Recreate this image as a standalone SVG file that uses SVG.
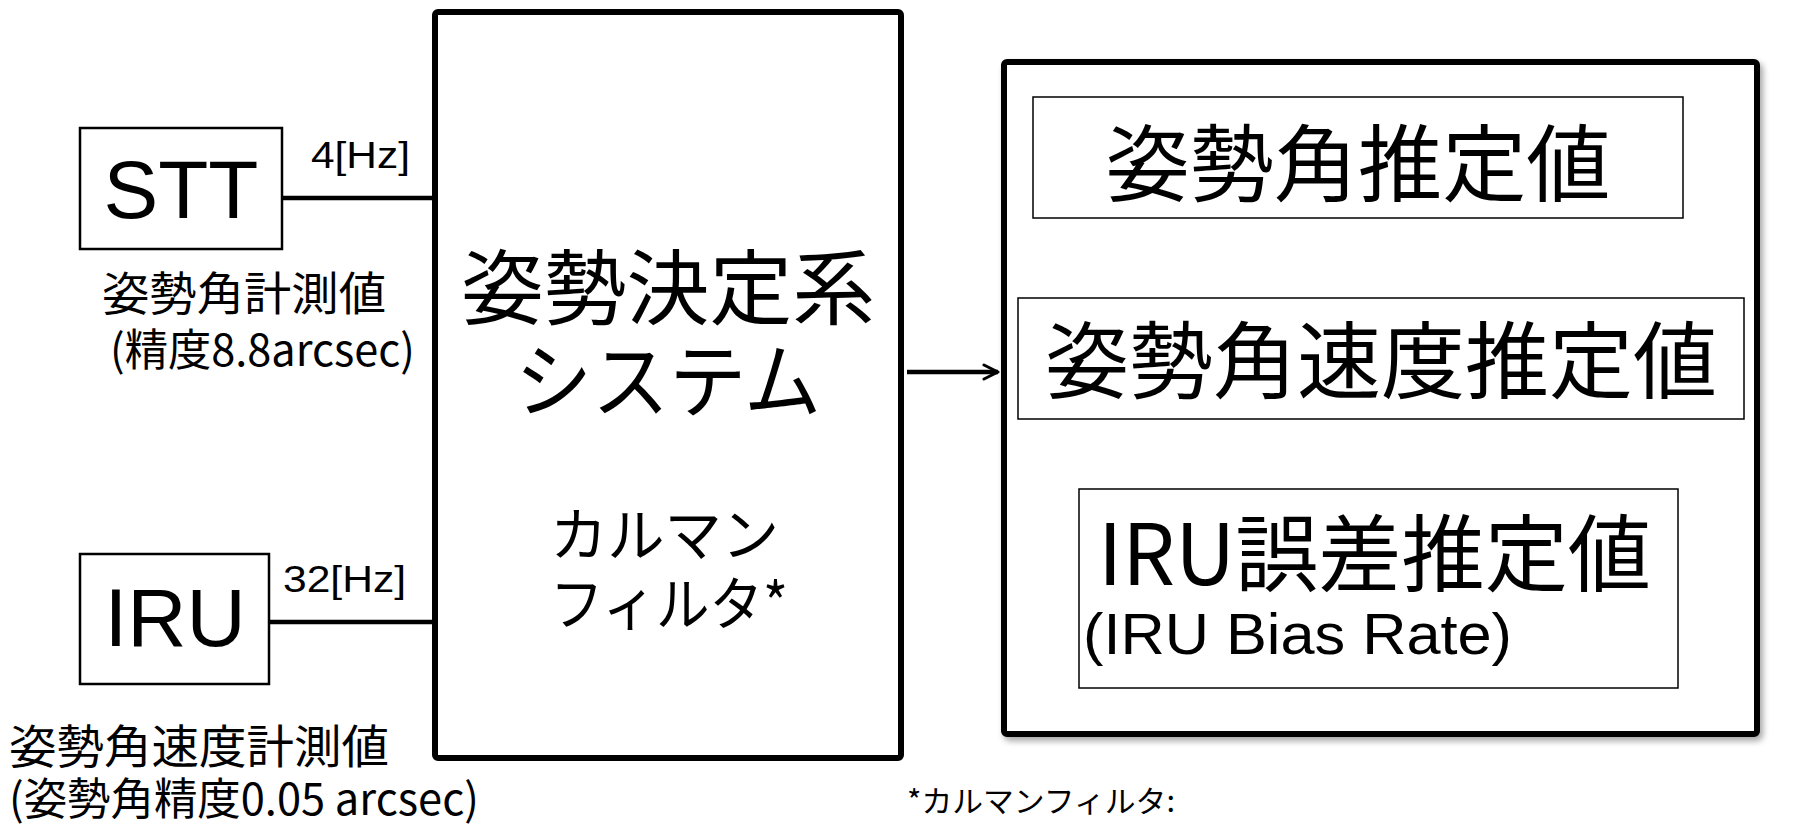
<svg xmlns="http://www.w3.org/2000/svg" width="1817" height="825" viewBox="0 0 1817 825">
<defs>
<marker id="arr" viewBox="0 0 20 20" refX="18" refY="10" markerWidth="20" markerHeight="20" markerUnits="userSpaceOnUse" orient="auto">
<path d="M4,3 L18,10 L4,17" fill="none" stroke="#000" stroke-width="3" stroke-linecap="round" stroke-linejoin="round"/>
</marker>
<filter id="sh" x="-5%" y="-5%" width="112%" height="112%">
<feDropShadow dx="3" dy="4" stdDeviation="3" flood-color="#000" flood-opacity="0.35"/>
</filter>
</defs>
<style>
text{fill:#000;font-family:"Liberation Sans","Noto Sans CJK JP",sans-serif}
.jp{font-family:"Noto Sans CJK JP","Liberation Sans",sans-serif}
.thin{fill:#fff;stroke:#000;stroke-width:1.5}
.sm{fill:#fff;stroke:#000;stroke-width:2.5}
.big{fill:#fff;stroke:#000;stroke-width:6}
.ln{stroke:#000;stroke-width:4.5;fill:none}
</style>
<rect width="1817" height="825" fill="#fff"/>
<g id="connectors">
<line class="ln" x1="283" y1="198" x2="432" y2="198"/>
<line class="ln" x1="269" y1="622" x2="432" y2="622"/>
<line class="ln" x1="907" y1="372" x2="998" y2="372" marker-end="url(#arr)"/>
<text x="311" y="168" font-size="37" textLength="99" lengthAdjust="spacingAndGlyphs">4[Hz]</text>
<text x="283" y="592" font-size="37" textLength="123" lengthAdjust="spacingAndGlyphs">32[Hz]</text>
</g>
<g id="stt">
<rect class="sm" x="80" y="128" width="202" height="121"/>
<text x="181" y="218" font-size="82" text-anchor="middle">STT</text>
<text class="jp" x="102" y="310" font-size="46" textLength="284" lengthAdjust="spacingAndGlyphs">姿勢角計測値</text>
<text class="jp" x="110" y="366" font-size="44" textLength="305" lengthAdjust="spacingAndGlyphs">(精度8.8arcsec)</text>
</g>
<g id="iru">
<rect class="sm" x="80" y="554" width="189" height="130"/>
<text x="175" y="646" font-size="82" text-anchor="middle">IRU</text>
<text class="jp" x="9" y="763" font-size="46" textLength="380" lengthAdjust="spacingAndGlyphs">姿勢角速度計測値</text>
<text class="jp" x="9" y="815" font-size="44" textLength="470" lengthAdjust="spacingAndGlyphs">(姿勢角精度0.05 arcsec)</text>
</g>
<g id="system">
<rect class="big" x="435" y="12" width="466" height="746" rx="3"/>
<text class="jp" x="668" y="318" font-size="82" text-anchor="middle" textLength="414" lengthAdjust="spacingAndGlyphs">姿勢決定系</text>
<text class="jp" x="668" y="411" font-size="82" text-anchor="middle" textLength="306" lengthAdjust="spacingAndGlyphs">システム</text>
<text class="jp" x="550" y="556" font-size="58" textLength="229" lengthAdjust="spacingAndGlyphs">カルマン</text>
<text class="jp" x="550" y="625" font-size="58" textLength="238" lengthAdjust="spacingAndGlyphs">フィルタ*</text>
</g>
<g id="estimates">
<rect class="big" x="1004" y="62" width="753" height="672" rx="3" filter="url(#sh)" stroke-width="5"/>
<g id="est-angle">
<rect class="thin" x="1033" y="97" width="650" height="121"/>
<text class="jp" x="1358" y="195" font-size="84" text-anchor="middle" textLength="505" lengthAdjust="spacingAndGlyphs">姿勢角推定値</text>
</g>
<g id="est-rate">
<rect class="thin" x="1018" y="298" width="726" height="121"/>
<text class="jp" x="1381" y="392" font-size="84" text-anchor="middle" textLength="672" lengthAdjust="spacingAndGlyphs">姿勢角速度推定値</text>
</g>
<g id="est-bias">
<rect class="thin" x="1079" y="489" width="599" height="199"/>
<text class="jp" x="1098" y="585" font-size="84" textLength="553" lengthAdjust="spacingAndGlyphs">IRU誤差推定値</text>
<text x="1083" y="654" font-size="58" textLength="429" lengthAdjust="spacingAndGlyphs">(IRU Bias Rate)</text>
</g>
</g>
<text class="jp" x="907" y="812" font-size="30" textLength="268" lengthAdjust="spacingAndGlyphs">*カルマンフィルタ:</text>
</svg>
